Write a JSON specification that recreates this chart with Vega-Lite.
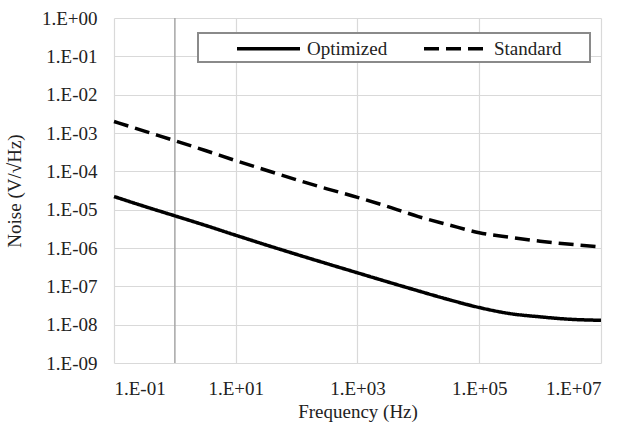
{
  "$schema": "https://vega.github.io/schema/vega-lite/v6.json",
  "autosize": "none",
  "width": 487,
  "height": 345,
  "padding": {"left": 114, "top": 18, "right": 30, "bottom": 64},
  "background": "white",
  "config": {
    "view": {"stroke": null},
    "font": "Times New Roman",
    "axis": {"labelFont": "Times New Roman", "titleFont": "Times New Roman", "labelColor": "#222", "titleColor": "#222", "labelFontSize": 19, "titleFontSize": 19, "titleFontWeight": "normal", "gridColor": "#d9d9d9", "gridWidth": 1.2, "domain": false, "ticks": false},
    "legend": {"labelFont": "Times New Roman", "titleFont": "Times New Roman"}
  },
  "layer": [
    {
      "data": {"values": [{"f": 1}]},
      "mark": {"type": "rule", "color": "#a6a6a6", "strokeWidth": 1.5},
      "encoding": {
        "x": {"field": "f", "type": "quantitative", "scale": {"type": "log", "domain": [0.1, 10000000], "nice": false}}
      }
    },
    {
      "data": {"values": [
        {"f": 0.1, "noise": 2.2e-5, "series": "Optimized"},
        {"f": 0.316, "noise": 1.22e-5, "series": "Optimized"},
        {"f": 1, "noise": 6.9e-6, "series": "Optimized"},
        {"f": 3.16, "noise": 3.9e-6, "series": "Optimized"},
        {"f": 10, "noise": 2.15e-6, "series": "Optimized"},
        {"f": 31.6, "noise": 1.2e-6, "series": "Optimized"},
        {"f": 100, "noise": 6.8e-7, "series": "Optimized"},
        {"f": 316, "noise": 3.9e-7, "series": "Optimized"},
        {"f": 1000, "noise": 2.25e-7, "series": "Optimized"},
        {"f": 3162, "noise": 1.3e-7, "series": "Optimized"},
        {"f": 10000, "noise": 7.6e-8, "series": "Optimized"},
        {"f": 31623, "noise": 4.5e-8, "series": "Optimized"},
        {"f": 100000, "noise": 2.8e-8, "series": "Optimized"},
        {"f": 316228, "noise": 1.95e-8, "series": "Optimized"},
        {"f": 1000000, "noise": 1.6e-8, "series": "Optimized"},
        {"f": 3162278, "noise": 1.38e-8, "series": "Optimized"},
        {"f": 10000000, "noise": 1.3e-8, "series": "Optimized"},
        {"f": 0.1, "noise": 2.0e-3, "series": "Standard"},
        {"f": 0.316, "noise": 1.12e-3, "series": "Standard"},
        {"f": 1, "noise": 6.3e-4, "series": "Standard"},
        {"f": 3.16, "noise": 3.5e-4, "series": "Standard"},
        {"f": 10, "noise": 1.9e-4, "series": "Standard"},
        {"f": 31.6, "noise": 1.07e-4, "series": "Standard"},
        {"f": 100, "noise": 6.0e-5, "series": "Standard"},
        {"f": 316, "noise": 3.5e-5, "series": "Standard"},
        {"f": 1000, "noise": 2.1e-5, "series": "Standard"},
        {"f": 3162, "noise": 1.2e-5, "series": "Standard"},
        {"f": 10000, "noise": 6.6e-6, "series": "Standard"},
        {"f": 31623, "noise": 4.0e-6, "series": "Standard"},
        {"f": 100000, "noise": 2.5e-6, "series": "Standard"},
        {"f": 316228, "noise": 1.9e-6, "series": "Standard"},
        {"f": 1000000, "noise": 1.5e-6, "series": "Standard"},
        {"f": 3162278, "noise": 1.25e-6, "series": "Standard"},
        {"f": 10000000, "noise": 1.07e-6, "series": "Standard"}
      ]},
      "mark": {"type": "line", "strokeWidth": 3.5, "interpolate": "monotone"},
      "encoding": {
        "x": {"field": "f", "type": "quantitative", "scale": {"type": "log", "domain": [0.1, 10000000], "nice": false},
          "axis": {"values": [0.1, 10, 1000, 100000, 10000000], "title": "Frequency (Hz)", "labelPadding": 16, "titlePadding": 4,
            "labelExpr": "'1.E' + (round(log(datum.value)/LN10) < 0 ? '-' : '+') + '0' + abs(round(log(datum.value)/LN10))"}},
        "y": {"field": "noise", "type": "quantitative", "scale": {"type": "log", "domain": [1e-9, 1], "nice": false},
          "axis": {"values": [1e-9, 1e-8, 1e-7, 1e-6, 1e-5, 1e-4, 1e-3, 1e-2, 1e-1, 1], "title": "Noise (V/√Hz)", "labelPadding": 17, "titlePadding": 17,
            "labelExpr": "'1.E' + (round(log(datum.value)/LN10) < 0 ? '-' : '+') + '0' + abs(round(log(datum.value)/LN10))"}},
        "color": {"field": "series", "type": "nominal", "scale": {"domain": ["Optimized", "Standard"], "range": ["black", "black"]},
          "legend": {"orient": "none", "legendX": 84, "legendY": 15, "direction": "horizontal", "title": "\u00a0", "titleOrient": "right", "titlePadding": 25, "symbolType": "M-3,0L3,0", "symbolSize": 441, "symbolStrokeWidth": 3.5, "labelFontSize": 19, "labelColor": "#222", "labelOffset": 26, "columnPadding": -3, "padding": 3, "symbolOffset": 55, "strokeColor": "#8a8a8a", "fillColor": "white",
            "encode": {"legend": {"update": {"strokeWidth": {"value": 2}}}}}},
        "strokeDash": {"field": "series", "type": "nominal", "scale": {"domain": ["Optimized", "Standard"], "range": [[1, 0], [15, 7]]},
          "legend": {"orient": "none", "legendX": 84, "legendY": 15, "direction": "horizontal", "title": "\u00a0", "titleOrient": "right", "titlePadding": 25, "symbolType": "M-3,0L3,0", "symbolSize": 441, "symbolStrokeWidth": 3.5, "labelFontSize": 19, "labelColor": "#222", "labelOffset": 26, "columnPadding": -3, "padding": 3, "symbolOffset": 55, "strokeColor": "#8a8a8a", "fillColor": "white",
            "encode": {"legend": {"update": {"strokeWidth": {"value": 2}}}}}}
      }
    }
  ]
}
